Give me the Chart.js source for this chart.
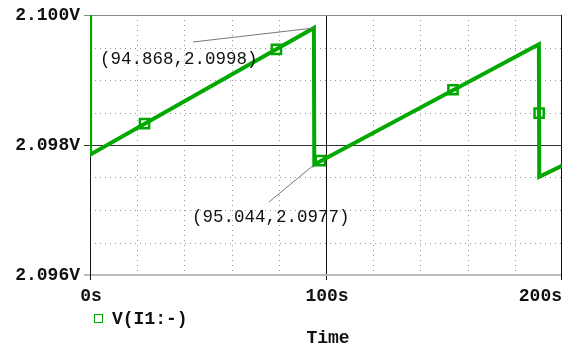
<!DOCTYPE html>
<html>
<head>
<meta charset="utf-8">
<script src="https://cdn.jsdelivr.net/npm/chart.js@4"></script>
<style>
  html, body { margin: 0; padding: 0; background: #fff; }
  canvas { display: block; }
</style>
</head>
<body>
<canvas id="c" width="571" height="346"></canvas>
<script>
// trace V(I1:-)
const timeValues = [0, 0.05, 94.868, 95.044, 190.2, 190.35, 200];
const voltValues = [2.1000, 2.09785, 2.0998, 2.0977, 2.09955, 2.09751, 2.09768];

// square markers along the trace
const markerTimes = [23.1, 79.0, 97.6, 153.8, 190.3];
const markerVolts = [2.09833, 2.09947, 2.09776, 2.09885, 2.09849];

const yTickValues = [2.096, 2.098, 2.100];
const yTickLabels = ['2.096V', '2.098V', '2.100V'];
const xTickValues = [0, 100, 200];
const xTickLabels = ['0s', '100s', '200s'];
const yGridValues = [2.0965, 2.097, 2.0975, 2.0985, 2.099, 2.0995];
const xGridValues = [20, 40, 60, 80, 120, 140, 160, 180];

const cursorPoints = [[94.868, 2.0998], [95.044, 2.0977]];
const cursorLabels = ['(94.868,2.0998)', '(95.044,2.0977)'];

const green = '#00a800';
const monoFont = '"Liberation Mono", "DejaVu Sans Mono", monospace';

const probePlugin = {
  id: 'probe',
  beforeDatasetsDraw(chart) {
    const { ctx, chartArea: a, scales: { x, y } } = chart;
    ctx.save();
    // dotted grid
    ctx.strokeStyle = '#999';
    ctx.lineWidth = 1;
    ctx.setLineDash([1, 4]);
    yGridValues.forEach(v => {
      const py = Math.round(y.getPixelForValue(v)) + 0.5;
      ctx.beginPath(); ctx.moveTo(a.left, py); ctx.lineTo(a.right, py); ctx.stroke();
    });
    xGridValues.forEach(v => {
      const px = Math.round(x.getPixelForValue(v)) + 0.5;
      ctx.beginPath(); ctx.moveTo(px, a.top); ctx.lineTo(px, a.bottom); ctx.stroke();
    });
    ctx.setLineDash([]);
    // solid middle lines
    const midY = Math.round(y.getPixelForValue(2.098)) + 0.5;
    ctx.strokeStyle = '#333';
    ctx.beginPath(); ctx.moveTo(a.left, midY); ctx.lineTo(a.right, midY); ctx.stroke();
    const midX = Math.round(x.getPixelForValue(100)) + 0.5;
    ctx.strokeStyle = '#111';
    ctx.beginPath(); ctx.moveTo(midX, a.top); ctx.lineTo(midX, a.bottom + 5); ctx.stroke();
    // frame
    ctx.strokeStyle = '#888';
    ctx.beginPath(); ctx.moveTo(a.left - 6, a.top + 0.5); ctx.lineTo(a.right, a.top + 0.5); ctx.stroke();
    ctx.strokeStyle = '#bbb';
    ctx.lineWidth = 2;
    ctx.beginPath(); ctx.moveTo(a.left - 6, a.bottom); ctx.lineTo(a.right, a.bottom); ctx.stroke();
    ctx.lineWidth = 1;
    ctx.strokeStyle = '#111';
    ctx.beginPath(); ctx.moveTo(a.left + 0.5, a.top); ctx.lineTo(a.left + 0.5, a.bottom + 5); ctx.stroke();
    ctx.beginPath(); ctx.moveTo(a.right - 0.5, a.top); ctx.lineTo(a.right - 0.5, a.bottom + 5); ctx.stroke();
    ctx.strokeStyle = '#333';
    ctx.beginPath(); ctx.moveTo(a.left - 6, midY); ctx.lineTo(a.left, midY); ctx.stroke();
    ctx.restore();
  },
  afterDraw(chart) {
    const { ctx, chartArea: a, scales: { x, y } } = chart;
    ctx.save();
    ctx.fillStyle = '#111';
    ctx.font = 'bold 18px ' + monoFont;
    ctx.textBaseline = 'middle';
    ctx.textAlign = 'right';
    yTickValues.forEach((v, i) => {
      ctx.fillText(yTickLabels[i], a.left - 10, y.getPixelForValue(v));
    });
    xTickValues.forEach((v, i) => {
      const px = x.getPixelForValue(v);
      ctx.textAlign = i === xTickValues.length - 1 ? 'right' : 'center';
      ctx.fillText(xTickLabels[i], i === xTickValues.length - 1 ? a.right : px + 1, a.bottom + 21);
    });
    // legend + axis title
    ctx.textAlign = 'left';
    ctx.fillText('V(I1:-)', 112, 319);
    ctx.strokeStyle = green;
    ctx.lineWidth = 1;
    ctx.strokeRect(94.5, 314.5, 8, 8);
    ctx.fillStyle = '#111';
    ctx.textAlign = 'center';
    ctx.fillText('Time', (a.left + a.right) / 2 + 2, 338);

    // cursor readouts with leader lines
    const labelSpots = [[100, 59, 193, 42], [192, 217, 269, 202]];
    ctx.font = '17.5px ' + monoFont;
    ctx.textAlign = 'left';
    ctx.strokeStyle = '#777';
    ctx.lineWidth = 1;
    cursorPoints.forEach((p, i) => {
      const [tx, ty, lx, ly] = labelSpots[i];
      ctx.beginPath();
      ctx.moveTo(lx, ly);
      ctx.lineTo(x.getPixelForValue(p[0]), y.getPixelForValue(p[1]));
      ctx.stroke();
      ctx.fillText(cursorLabels[i], tx, ty);
    });
    ctx.restore();
  }
};

new Chart(document.getElementById('c'), {
  type: 'line',
  data: {
    datasets: [{
      data: timeValues.map((t, i) => ({ x: t, y: voltValues[i] })),
      borderColor: green,
      borderWidth: 4,
      pointRadius: 0,
      tension: 0
    }, {
      data: markerTimes.map((t, i) => ({ x: t, y: markerVolts[i] })),
      showLine: false,
      pointStyle: 'rect',
      pointRadius: 6.5,
      pointBorderWidth: 2.5,
      pointBorderColor: green,
      pointBackgroundColor: '#fff'
    }]
  },
  options: {
    responsive: false,
    animation: false,
    layout: { padding: { top: 15, right: 5, left: 0, bottom: 0 } },
    plugins: { legend: { display: false }, tooltip: { enabled: false } },
    scales: {
      x: {
        type: 'linear', min: 0, max: 200,
        ticks: { display: false }, grid: { display: false }, border: { display: false },
        afterFit: s => { s.height = 71; }
      },
      y: {
        min: 2.096, max: 2.100,
        ticks: { display: false }, grid: { display: false }, border: { display: false },
        afterFit: s => { s.width = 90; }
      }
    }
  },
  plugins: [probePlugin]
});
</script>
</body>
</html>
